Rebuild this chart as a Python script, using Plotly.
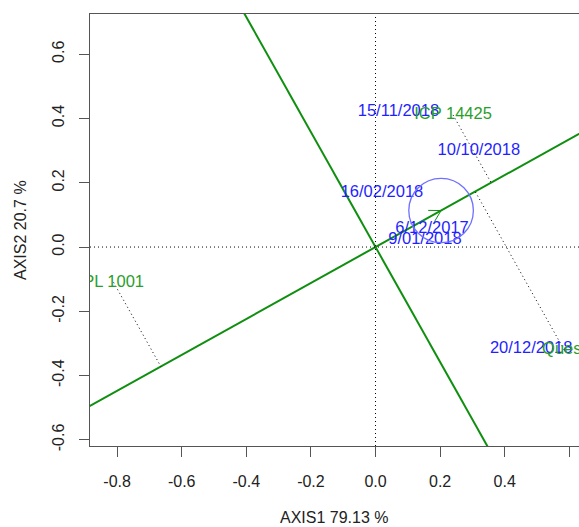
import numpy as np
import plotly.graph_objects as go

# ---------------- data ----------------
GEN_LABELS = ["PL 1001", "ICP 14425", "Quest"]
GEN_X = [-0.811, 0.240, 0.584]
GEN_Y = [-0.110, 0.411, -0.320]

ENV_LABELS = ["15/11/2018", "10/10/2018", "16/02/2018", "6/12/2017", "9/01/2018", "20/12/2018"]
ENV_X = [0.071, 0.320, 0.020, 0.175, 0.153, 0.482]
ENV_Y = [0.422, 0.299, 0.167, 0.058, 0.023, -0.317]

AVG_ENV = [0.203, 0.1135]   # average-environment coordinates
CIRCLE_R = 0.10

X_TICKS = [-0.8, -0.6, -0.4, -0.2, 0.0, 0.2, 0.4, 0.6]
X_TICKTEXT = ["-0.8", "-0.6", "-0.4", "-0.2", "0.0", "0.2", "0.4", "0.6"]
Y_TICKS = [-0.6, -0.4, -0.2, 0.0, 0.2, 0.4, 0.6]
Y_TICKTEXT = ["-0.6", "-0.4", "-0.2", "0.0", "0.2", "0.4", "0.6"]

X_TITLE = "AXIS1 79.13 %"
Y_TITLE = "AXIS2 20.7 %"

X_RANGE = [-0.884, 0.630]
Y_RANGE = [-0.619, 0.725]

# ---------------- styles ----------------
FONT = "Liberation Sans, Arial, sans-serif"
GREEN_LINE = "#0f8f0f"
GREEN_TEXT = "#2a9e2a"
BLUE_TEXT = "#1f1fff"
AXIS_COL = "#555555"

fig = go.Figure()

# unit vector of the average-environment axis
ax, ay = AVG_ENV
norm = np.hypot(ax, ay)
ux, uy = ax / norm, ay / norm
t = np.array([-5.0, 5.0])

# dotted reference lines through origin
fig.add_hline(y=0, line=dict(color="black", width=1, dash="1px,3px"))
fig.add_vline(x=0, line=dict(color="black", width=1, dash="1px,3px"))

# AEC abscissa and ordinate
fig.add_trace(go.Scatter(x=t * ux, y=t * uy, mode="lines",
                         line=dict(color=GREEN_LINE, width=2), hoverinfo="skip", showlegend=False))
fig.add_trace(go.Scatter(x=-t * uy, y=t * ux, mode="lines",
                         line=dict(color=GREEN_LINE, width=2), hoverinfo="skip", showlegend=False))

# projections of genotypes onto the AEC abscissa
for gx, gy in zip(GEN_X, GEN_Y):
    d = gx * ux + gy * uy
    fig.add_trace(go.Scatter(x=[gx, d * ux], y=[gy, d * uy], mode="lines",
                             line=dict(color="black", width=1, dash="1px,3px"),
                             hoverinfo="skip", showlegend=False))

# arrow head at the average environment
theta = np.arctan2(ay, ax)
L = 0.04
for s in (+1, -1):
    a = theta + s * np.pi / 6
    fig.add_trace(go.Scatter(x=[ax, ax - L * np.cos(a)], y=[ay, ay - L * np.sin(a)],
                             mode="lines", line=dict(color=GREEN_LINE, width=1),
                             hoverinfo="skip", showlegend=False))

# circle around average environment
fig.add_shape(type="circle", xref="x", yref="y",
              x0=ax - CIRCLE_R, x1=ax + CIRCLE_R, y0=ay - CIRCLE_R, y1=ay + CIRCLE_R,
              line=dict(color="#7070ff", width=1.3))

# environment labels
fig.add_trace(go.Scatter(x=ENV_X, y=ENV_Y, text=ENV_LABELS, mode="text",
                         textposition="middle center", cliponaxis=True,
                         textfont=dict(family=FONT, size=16.5, color=BLUE_TEXT),
                         hoverinfo="skip", showlegend=False))
# genotype labels
fig.add_trace(go.Scatter(x=GEN_X, y=GEN_Y, text=GEN_LABELS, mode="text",
                         textposition="middle center", cliponaxis=True,
                         textfont=dict(family=FONT, size=16.5, color=GREEN_TEXT),
                         hoverinfo="skip", showlegend=False))

fig.update_xaxes(range=X_RANGE, tickvals=X_TICKS, ticktext=X_TICKTEXT,
                 showgrid=False, zeroline=False, showline=True, mirror=True,
                 linecolor=AXIS_COL, linewidth=1, ticks="outside", ticklen=10,
                 tickcolor=AXIS_COL, tickfont=dict(family=FONT, size=16, color="#222222"),
                 ticklabelstandoff=11)
fig.update_yaxes(range=Y_RANGE, tickvals=Y_TICKS, ticktext=Y_TICKTEXT,
                 showgrid=False, zeroline=False, showline=True, mirror=False,
                 linecolor=AXIS_COL, linewidth=1, ticks="outside", ticklen=10,
                 tickcolor=AXIS_COL, tickfont=dict(family=FONT, size=16, color="#222222"),
                 tickangle=-90, ticklabelstandoff=9)

fig.add_annotation(text=X_TITLE, xref="paper", yref="paper", x=0.5, y=0,
                   xanchor="center", yanchor="middle", yshift=-71, showarrow=False,
                   font=dict(family=FONT, size=16, color="#222222"))
fig.add_annotation(text=Y_TITLE, xref="paper", yref="paper", x=0, y=0.5,
                   xanchor="center", yanchor="middle", xshift=-70, textangle=-90,
                   showarrow=False, font=dict(family=FONT, size=16, color="#222222"))

fig.update_layout(width=579, height=527, margin=dict(l=90, r=0, t=14, b=81),
                  plot_bgcolor="white", paper_bgcolor="white", showlegend=False)

fig.write_html("out.html", config={"displayModeBar": False},
               post_script="document.body.style.margin='0';document.body.style.overflow='hidden';")
